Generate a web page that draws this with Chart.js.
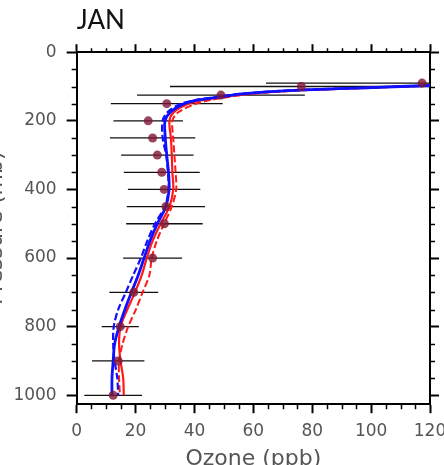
<!DOCTYPE html>
<html>
<head>
<meta charset="utf-8">
<script src="https://cdn.jsdelivr.net/npm/chart.js@4.4.1/dist/chart.umd.min.js"></script>
<style>
  html, body { margin: 0; padding: 0; background: #fff; }
</style>
</head>
<body>
<canvas id="ozoneChart" width="444" height="465"></canvas>
<script>
// observed profile: mean and spread at each pressure level (mb)
const obsPressure = [90, 100, 125, 150, 200, 250, 300, 350, 400, 450, 500, 600, 700, 800, 900, 1000];
const obsMean = [117.3, 76.3, 49.0, 30.6, 24.3, 25.8, 27.4, 28.9, 29.7, 30.3, 29.8, 25.8, 19.4, 14.8, 14.1, 12.4];
const obsSd = [53.0, 44.6, 28.5, 19.0, 11.8, 14.5, 12.3, 12.9, 12.3, 13.3, 13.0, 10.0, 8.3, 6.3, 8.9, 9.8];

// model profiles
const modelPressure = [97, 103, 112, 121, 130, 140, 152, 175, 200, 250, 300, 350, 400, 450, 500, 550, 600, 650, 700, 750, 800, 850, 900, 950, 1000];
const blueSolid = [120, 100, 72, 57, 49, 41, 36, 31.8, 30.0, 30.1, 30.6, 31.2, 31.4, 30.3, 27.4, 24.9, 22.9, 20.9, 18.6, 16.4, 14.4, 12.9, 12.4, 12.0, 12.0];
const blueDashed = [120, 99, 71, 56, 48, 40, 35, 30.8, 29.2, 29.2, 30.4, 31.0, 31.2, 30.0, 26.6, 24.0, 21.8, 19.2, 16.7, 14.1, 12.6, 12.4, 12.9, 13.8, 14.1];
const redSolid = [120, 101, 73, 58, 50, 42.5, 37.5, 33.0, 31.5, 32.0, 32.3, 32.5, 32.8, 31.5, 28.5, 25.8, 23.8, 22.1, 19.8, 17.2, 14.9, 14.4, 14.9, 15.8, 16.0];
const redDashed = [120, 102, 75, 60, 52, 45, 40, 34.5, 32.5, 32.8, 33.2, 33.6, 33.8, 32.3, 29.7, 27.2, 25.5, 24.7, 22.4, 20.1, 17.5, 15.6, 14.4, 14.4, 14.7];

// tick labels
const xTickLabels = [0, 20, 40, 60, 80, 100, 120];
const yTickLabels = [0, 200, 400, 600, 800, 1000];
const xMinorStep = 5;
const yMinorStep = 50;

function profile(values, color, dash, width) {
  return {
    data: values.map((v, i) => ({ x: v, y: modelPressure[i] })),
    showLine: true,
    borderColor: color,
    borderWidth: width,
    borderDash: dash,
    pointRadius: 0,
    tension: 0.3,
    order: 1
  };
}

const errorBars = obsPressure.map((p, i) => ({
  data: [{ x: obsMean[i] - obsSd[i], y: p }, { x: obsMean[i] + obsSd[i], y: p }],
  showLine: true,
  borderColor: "#111",
  borderWidth: 1.3,
  pointRadius: 0,
  order: 3
}));

// small ticks between the labelled ones, on all four sides
const minorTicks = {
  id: "minorTicks",
  afterDraw(chart) {
    const { ctx, chartArea, scales } = chart;
    const x = scales.x, y = scales.y;
    ctx.save();
    ctx.strokeStyle = "#000";
    ctx.lineWidth = 1.5;
    ctx.beginPath();
    for (let v = x.min; v <= x.max; v += xMinorStep) {
      if (xTickLabels.includes(v)) continue;
      const px = Math.round(x.getPixelForValue(v)) + 0.5;
      ctx.moveTo(px, chartArea.bottom); ctx.lineTo(px, chartArea.bottom + 5);
      ctx.moveTo(px, chartArea.top); ctx.lineTo(px, chartArea.top - 4);
    }
    for (let v = 0; v <= yTickLabels[yTickLabels.length - 1]; v += yMinorStep) {
      if (yTickLabels.includes(v)) continue;
      const py = Math.round(y.getPixelForValue(v)) + 0.5;
      ctx.moveTo(chartArea.left, py); ctx.lineTo(chartArea.left - 5, py);
      ctx.moveTo(chartArea.right, py); ctx.lineTo(chartArea.right + 5, py);
    }
    ctx.stroke();
    ctx.restore();
  }
};

const tickFont = { family: "DejaVu Sans", size: 17 };
const titleFont = { family: "DejaVu Sans", size: 22 };

function axis(position, min, max, labels, tickLength, show, pad) {
  return {
    type: "linear",
    position: position,
    min: min,
    max: max,
    reverse: position === "left" || position === "right",
    afterBuildTicks: s => { s.ticks = labels.map(v => ({ value: v })); },
    afterFit: s => { s.paddingLeft = 0; s.paddingRight = 0; },
    grid: { drawOnChartArea: false, drawTicks: true, tickLength: tickLength, tickColor: "#000", tickWidth: 2 },
    border: { display: true, color: "#000", width: 2 },
    ticks: { display: show, padding: pad, color: "#555", font: tickFont, maxRotation: 0, callback: v => String(v) }
  };
}

const xAxis = axis("bottom", 0, 120, xTickLabels, 9, true, 8);
xAxis.title = { display: true, text: "Ozone (ppb)", color: "#555", font: titleFont, padding: { top: -4, bottom: 6 } };
const yAxis = axis("left", 0, 1026, yTickLabels, 10, true, 10);
yAxis.title = { display: true, text: "Pressure (mb)", color: "#555", font: titleFont, padding: { top: 4, bottom: -6 } };

new Chart(document.getElementById("ozoneChart").getContext("2d"), {
  type: "scatter",
  data: {
    datasets: [
      {
        data: obsMean.map((v, i) => ({ x: v, y: obsPressure[i] })),
        pointRadius: 4.5,
        backgroundColor: "rgba(128, 22, 52, 0.8)",
        borderWidth: 0,
        order: 0
      },
      profile(blueSolid, "#1010ff", [], 2.8),
      profile(blueDashed, "#1010ff", [7, 3], 2.2),
      profile(redSolid, "#ff1a1a", [], 2.2),
      profile(redDashed, "#ff1a1a", [7, 3], 2)
    ].concat(errorBars)
  },
  options: {
    responsive: false,
    animation: false,
    events: [],
    layout: { padding: { left: -21, right: 5, top: 0, bottom: -13 } },
    scales: {
      x: xAxis,
      x2: axis("top", 0, 120, xTickLabels, 8, false, 0),
      y: yAxis,
      y2: axis("right", 0, 1026, yTickLabels, 9, false, 0)
    },
    plugins: {
      legend: { display: false },
      tooltip: { enabled: false },
      title: {
        display: true,
        text: "JAN",
        align: "start",
        fullSize: false,
        color: "#111",
        font: { family: "Lato", size: 26, weight: "normal" },
        padding: { top: 5, bottom: 8 }
      }
    }
  },
  plugins: [minorTicks]
});
</script>
</body>
</html>
